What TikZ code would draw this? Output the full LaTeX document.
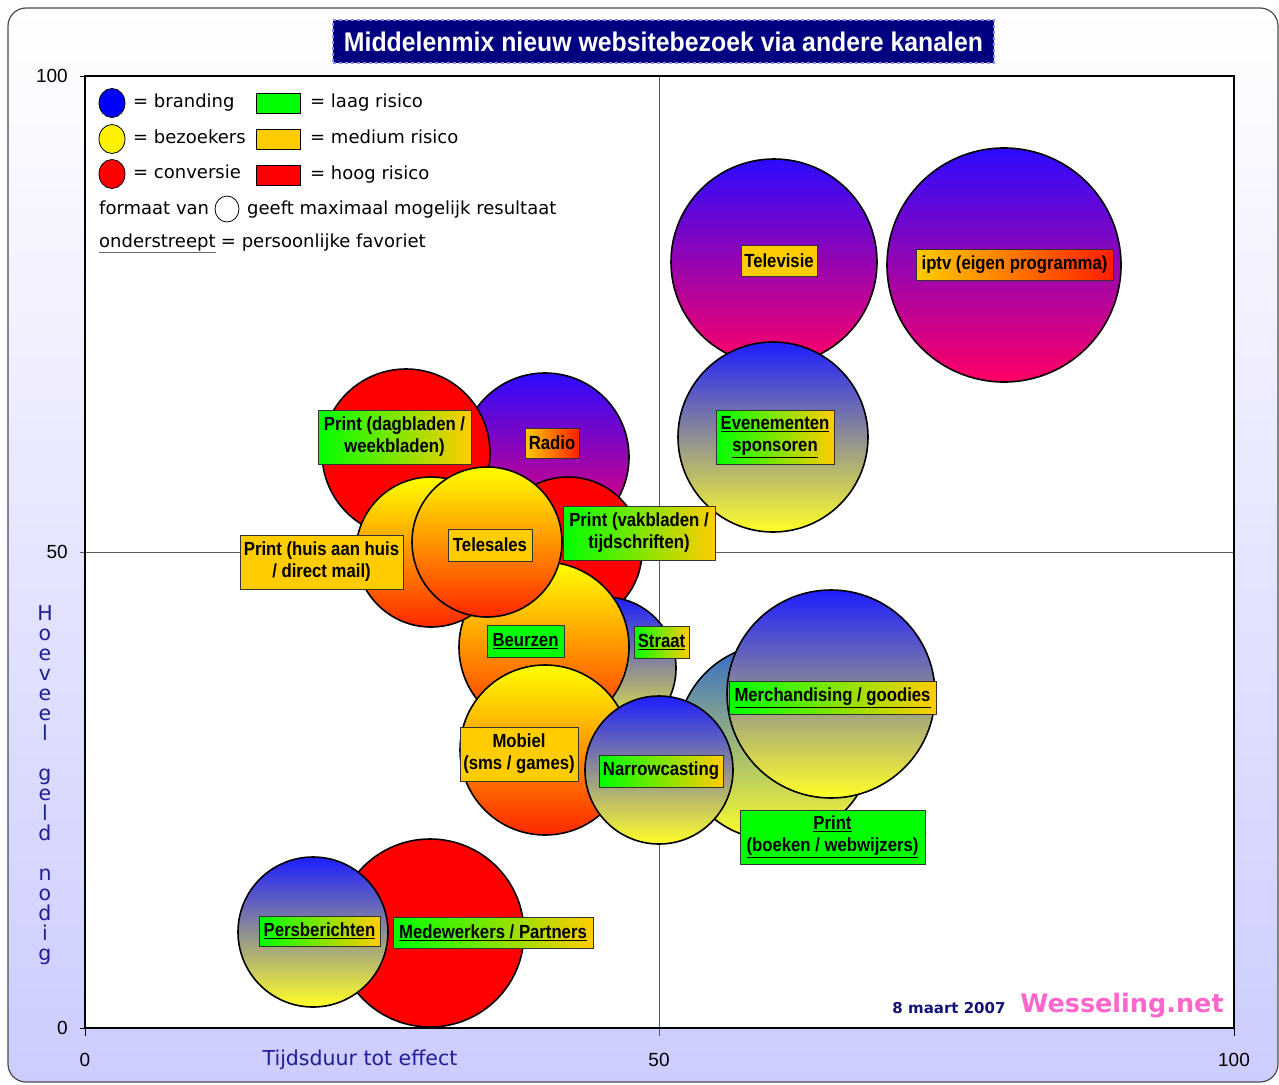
\documentclass[tikz,border=0pt]{standalone}
\usepackage{fontspec}
\setmainfont{DejaVu Sans}
\newfontfamily\lblfont[FakeStretch=0.88]{Liberation Sans}
\newfontfamily\arialf{Liberation Sans}
\newfontfamily\titlef[FakeStretch=0.92]{Liberation Sans}
\usetikzlibrary{shapes.geometric}
\definecolor{navyT}{RGB}{0,0,128}
\definecolor{titleedge}{RGB}{140,140,230}
\definecolor{lav}{RGB}{204,204,255}
\definecolor{lavmid}{RGB}{232,232,255}
\definecolor{gOK}{RGB}{0,255,0}
\definecolor{oMed}{RGB}{255,204,0}
\definecolor{rHi}{RGB}{255,0,0}
\definecolor{lblred}{RGB}{255,30,0}
\definecolor{bBlue}{RGB}{45,10,255}
\definecolor{bMag}{RGB}{255,0,100}
\definecolor{yBlue}{RGB}{30,30,255}
\definecolor{yGray}{RGB}{195,195,205}
\definecolor{bYel}{RGB}{255,255,40}
\definecolor{sBlue}{RGB}{50,105,205}
\definecolor{sGray}{RGB}{175,185,170}
\definecolor{yrRed}{RGB}{255,40,0}
\definecolor{yrMid}{RGB}{255,180,0}
\definecolor{axisnavy}{RGB}{30,30,150}
\definecolor{datenavy}{RGB}{20,20,120}
\definecolor{wpink}{RGB}{255,102,204}
\definecolor{quad}{RGB}{90,90,90}
\tikzset{
  bub/.style={circle, draw=black, line width=1.6pt, inner sep=0pt, minimum size=#1},
  bluered/.style={bub=#1, top color=bBlue, bottom color=bMag},
  blueyel/.style={bub=#1, top color=yBlue, middle color=yGray, bottom color=bYel},
  steelyel/.style={bub=#1, top color=sBlue, middle color=sGray, bottom color=bYel},
  yelred/.style={bub=#1, top color=yellow, middle color=yrMid, bottom color=yrRed},
  redbub/.style={bub=#1, fill=rHi},
  lab/.style={draw=black!80, line width=0.8pt, inner sep=0pt, align=center,
    font=\lblfont\bfseries\fontsize{19}{22}\selectfont},
  labGO/.style={lab, left color=gOK, right color=oMed},
  labOR/.style={lab, left color=oMed, right color=lblred},
  labO/.style={lab, fill=oMed},
  labG/.style={lab, fill=gOK},
  legtxt/.style={anchor=west, inner sep=0pt, text height=13pt, text depth=4pt,
    font=\fontsize{18}{21}\selectfont},
  legdot/.style={ellipse, draw=black, line width=0.8pt, minimum width=26pt, minimum height=29pt, inner sep=0pt},
  legbox/.style={rectangle, draw=black, line width=0.8pt, minimum width=44pt, minimum height=20pt, inner sep=0pt},
  ticklab/.style={font=\arialf\fontsize{19}{22}\selectfont, inner sep=0pt},
  axtitle/.style={text=axisnavy, font=\fontsize{20.5}{24}\selectfont, inner sep=0pt},
}
\begin{document}
\begin{tikzpicture}[x=1pt,y=-1pt]
\useasboundingbox (0,0) rectangle (1279,1084);
% outer frame
\path[draw=black!70, line width=1.2pt, rounded corners=18pt, top color=white, middle color=lavmid, bottom color=lav]
  (8,8) rectangle (1278,1082);
% plot area
\path[fill=white] (85,76) rectangle (1234,1028);
% quadrant lines
\draw[quad, line width=0.8pt] (80,552) -- (1234,552);
\draw[quad, line width=0.8pt] (659,76) -- (659,1036);
% ticks
\draw[black, line width=1pt] (80,76) -- (85,76) (80,1028) -- (85,1028);
\draw[black, line width=1pt] (85,1028) -- (85,1036) (1234,1028) -- (1234,1036);
% tick labels
\node[ticklab, anchor=east] (y100) at (68,76) {100};
\node[ticklab, anchor=east] (y50) at (68,552) {50};
\node[ticklab, anchor=east] (y0) at (68,1028) {0};
\node[ticklab] (x0) at (85,1060) {0};
\node[ticklab] (x50) at (659,1060) {50};
\node[ticklab] (x100) at (1234,1060) {100};
% axis titles
\node[axtitle] (xtitle) at (360,1060) {Tijdsduur tot effect};
\foreach \ch [count=\i] in {H,o,e,v,e,e,l,{},g,e,l,d,{},n,o,d,i,g}
  \node[axtitle, anchor=base] (yl\i) at (45,{620+(\i-1)*20}) {\ch};
% title
\node[fill=navyT, draw=titleedge, dashed, line width=1.5pt, minimum width=661pt, minimum height=43pt,
  text=white, font=\titlef\bfseries\fontsize{27}{30}\selectfont, inner sep=0pt] (title) at (663.5,41.5)
  {Middelenmix nieuw websitebezoek via andere kanalen};
% legend
\node[legdot, fill=blue] (lgB) at (112,103) {};
\node[legtxt] (tB) at (133,103) {= branding};
\node[legbox, fill=gOK] (lgG) at (278,103) {};
\node[legtxt] (tG) at (310,103) {= laag risico};
\node[legdot, fill=yellow] (lgY) at (112,139) {};
\node[legtxt] (tY) at (133,139) {= bezoekers};
\node[legbox, fill=oMed] (lgO) at (278,139) {};
\node[legtxt] (tO) at (310,139) {= medium risico};
\node[legdot, fill=rHi] (lgR) at (112,174) {};
\node[legtxt] (tR) at (133,174) {= conversie};
\node[legbox, fill=rHi] (lgH) at (278,175) {};
\node[legtxt] (tH) at (310,175) {= hoog risico};
\node[legtxt] (tF) at (99,210) {formaat van};
\node[ellipse, draw=black, line width=0.8pt, fill=white, minimum width=24pt, minimum height=26pt, inner sep=0pt] (lgC) at (227,209) {};
\node[legtxt] (tF2) at (247,210) {geeft maximaal mogelijk resultaat};
\node[legtxt] (tU) at (99,243) {onderstreept};
\node[legtxt, anchor=west] (tU2) at ([xshift=5pt]tU.east) {= persoonlijke favoriet};
\draw[black!60, line width=1.3pt] ([yshift=-1pt]tU.south west) -- ([yshift=-1pt]tU.south east);
% bubbles (back to front)
\node[bluered=206pt] (bTV) at (774,262) {};
\node[bluered=234pt] (bIP) at (1004,265) {};
\node[blueyel=190pt] (bEV) at (773,437) {};
\node[bluered=168pt] (bRA) at (545,457) {};
\node[redbub=168pt] (bDA) at (406,453) {};
\node[redbub=148pt] (bVA) at (568,551) {};
\node[blueyel=142pt] (bST) at (605,668) {};
\node[yelred=170pt] (bBE) at (544,647) {};
\node[yelred=150pt] (bHU) at (431,552) {};
\node[yelred=150pt] (bTE) at (487,542) {};
\node[yelred=170pt] (bMO) at (545,750) {};
\node[steelyel=196pt] (bPB) at (775,742) {};
\node[blueyel=148pt] (bNA) at (659,770) {};
\node[blueyel=208pt] (bME) at (831,694) {};
\node[redbub=188pt] (bMW) at (430,933) {};
\node[blueyel=150pt] (bPE) at (313,932) {};
% labels
\node[labO, minimum width=76pt, minimum height=31pt] (lTV) at (779,260.5) {Televisie};
\node[labOR, minimum width=197pt, minimum height=31pt] (lIP) at (1014.5,264.5) {iptv (eigen programma)};
\node[labGO, minimum width=153pt, minimum height=54pt] (lDA) at (394.5,437) {Print (dagbladen /\\weekbladen)};
\node[labOR, minimum width=54pt, minimum height=30pt] (lRA) at (552,443) {Radio};
\node[labGO, minimum width=118pt, minimum height=54pt] (lEV) at (775,437) {\underline{Evenementen}\\\underline{sponsoren}};
\node[labGO, minimum width=152pt, minimum height=54pt] (lVA) at (639,533) {Print (vakbladen /\\tijdschriften)};
\node[labO, minimum width=163pt, minimum height=54pt] (lHU) at (321.5,562) {Print (huis aan huis\\/ direct mail)};
\node[labO, minimum width=84pt, minimum height=32pt] (lTE) at (490,545) {Telesales};
\node[labG, minimum width=77pt, minimum height=32pt] (lBE) at (525.5,641) {\underline{Beurzen}};
\node[labGO, minimum width=55pt, minimum height=32pt] (lST) at (661.5,642) {\underline{Straat}};
\node[labO, minimum width=118pt, minimum height=54pt] (lMO) at (519,754) {Mobiel\\(sms / games)};
\node[labGO, minimum width=124pt, minimum height=32pt] (lNA) at (661,771) {Narrowcasting};
\node[labGO, minimum width=207pt, minimum height=33pt] (lME) at (832.5,697.5) {\underline{Merchandising / goodies}};
\node[labG, minimum width=185pt, minimum height=54pt] (lPB) at (832.5,837) {\underline{Print}\\\underline{(boeken / webwijzers)}};
\node[labGO, minimum width=121pt, minimum height=30pt] (lPE) at (319.5,931) {\underline{Persberichten}};
\node[labGO, minimum width=200pt, minimum height=31pt] (lMW) at (493,932.5) {\underline{Medewerkers / Partners}};
% plot border
\draw[black, line width=1.8pt] (85,76) rectangle (1234,1028);
% signature
\node[text=datenavy, font=\bfseries\fontsize{15}{17}\selectfont, inner sep=0pt] (date) at (949,1008) {8 maart 2007};
\node[text=wpink, font=\bfseries\fontsize{25.5}{28}\selectfont, inner sep=0pt] (wes) at (1122,1006) {Wesseling.net};
\end{tikzpicture}
\end{document}
